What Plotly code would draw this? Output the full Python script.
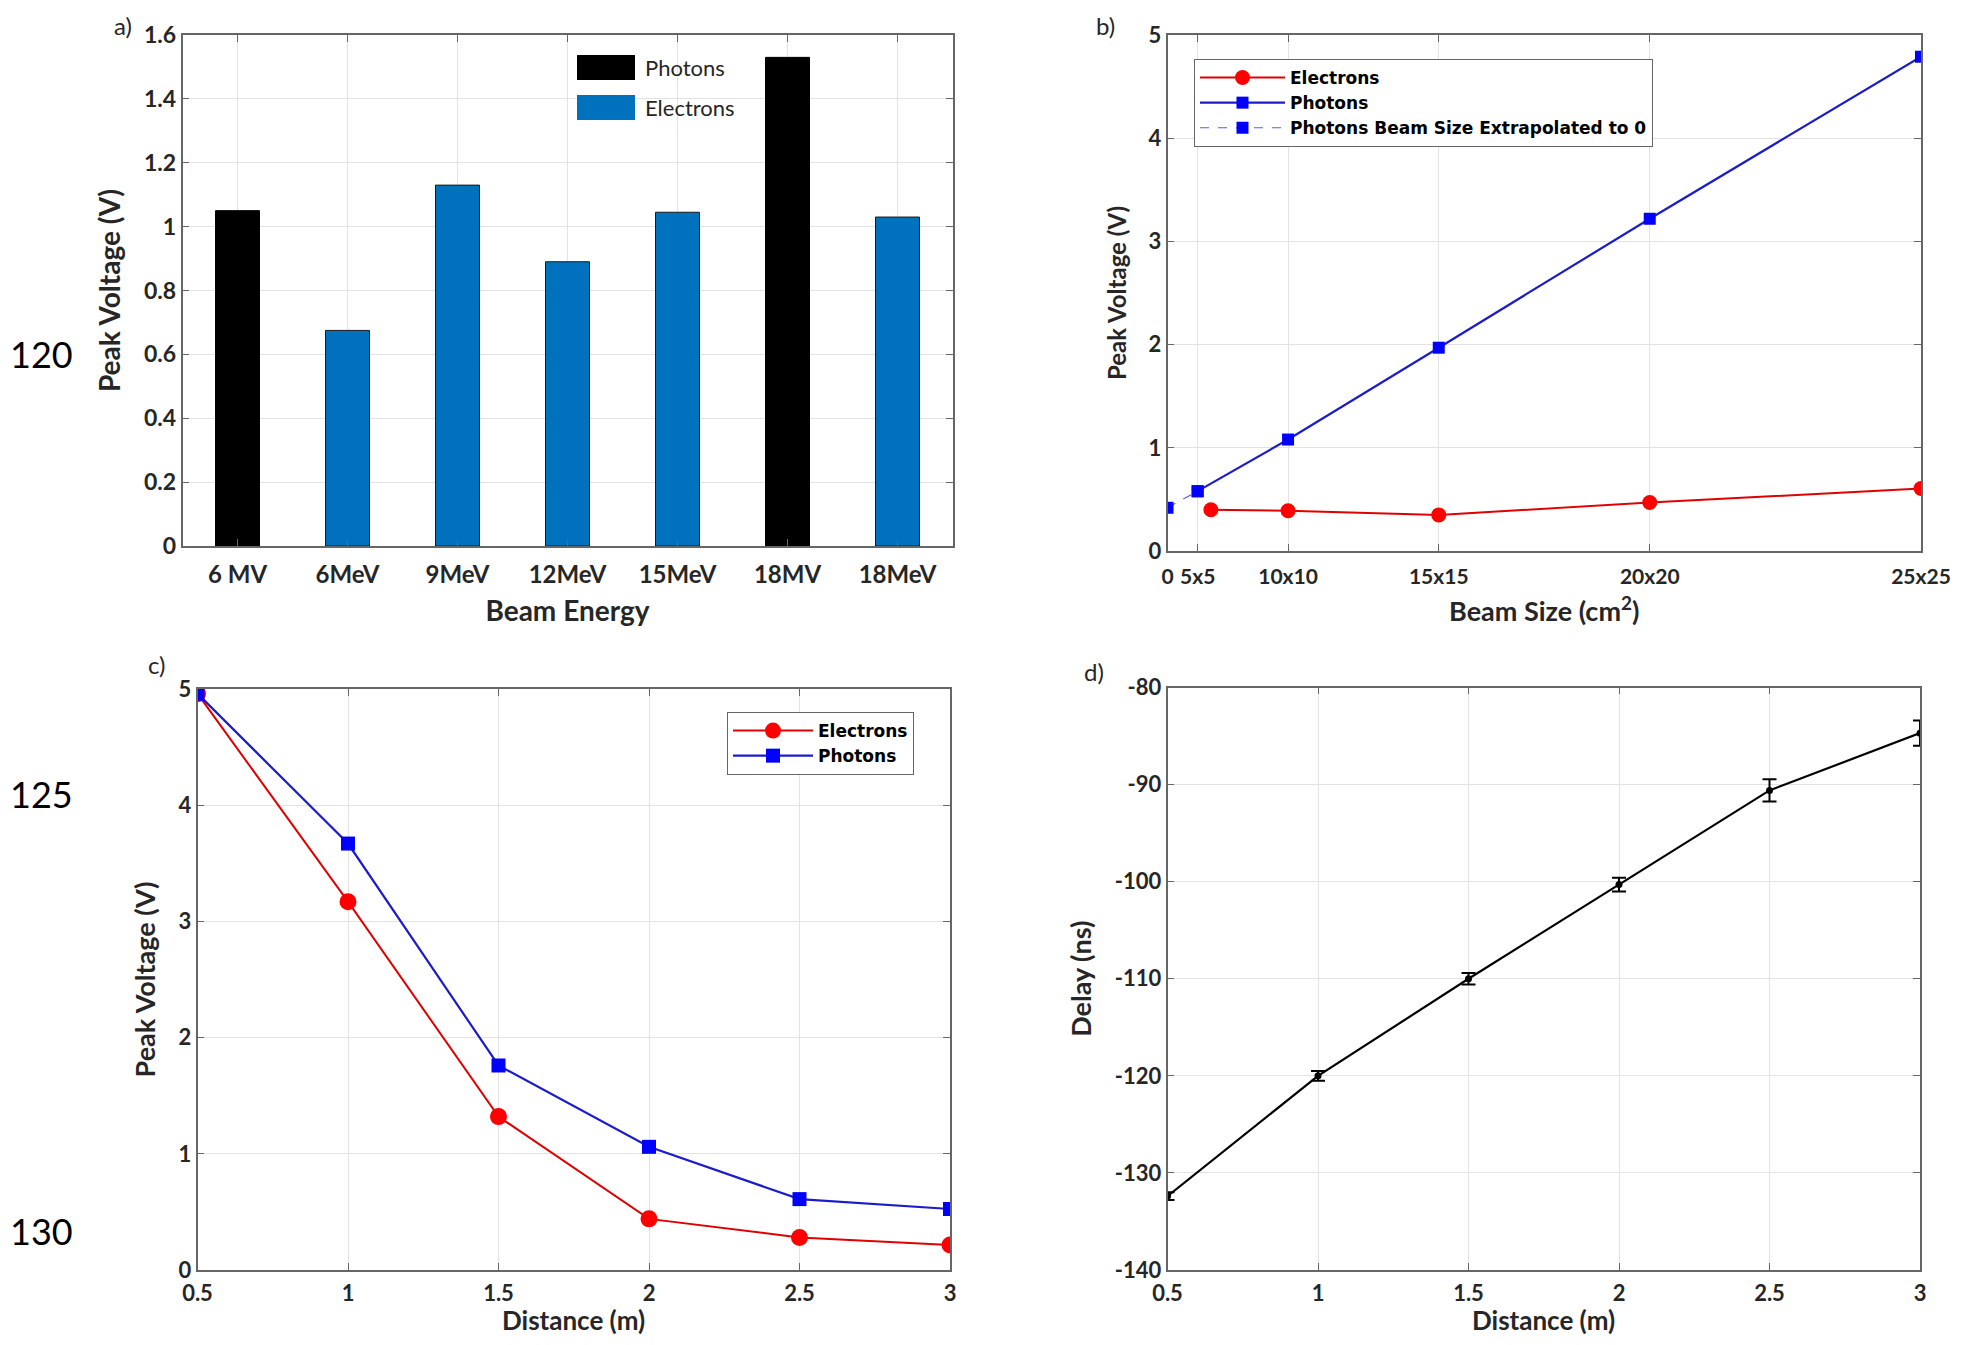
import plotly.graph_objects as go

# ---------------- data ----------------
# panel a
energies = ["6 MV", "6MeV", "9MeV", "12MeV", "15MeV", "18MV", "18MeV"]
photon_energies = ["6 MV", "18MV"]
photon_peak = [1.05, 1.53]
electron_energies = ["6MeV", "9MeV", "12MeV", "15MeV", "18MeV"]
electron_peak = [0.675, 1.13, 0.89, 1.045, 1.03]

# panel b (beam area in cm^2)
b_tickvals = [0, 25, 100, 225, 400, 625]
b_ticktext = ["0", "5x5", "10x10", "15x15", "20x20", "25x25"]
b_elec_area = [36, 100, 225, 400, 625]
b_elec_v = [0.40, 0.39, 0.35, 0.47, 0.605]
b_phot_area = [25, 100, 225, 400, 625]
b_phot_v = [0.58, 1.08, 1.97, 3.22, 4.79]
b_extrap_area = [0, 25]
b_extrap_v = [0.42, 0.58]

# panel c
c_dist = [0.5, 1, 1.5, 2, 2.5, 3]
c_elec = [4.96, 3.17, 1.32, 0.44, 0.28, 0.215]
c_phot = [4.96, 3.67, 1.76, 1.06, 0.61, 0.525]

# panel d
d_dist = [0.5, 1, 1.5, 2, 2.5, 3]
d_delay = [-132.4, -120.0, -110.0, -100.3, -90.6, -84.7]
d_err = [0.4, 0.5, 0.6, 0.7, 1.15, 1.3]
d_tickvals = [-140, -130, -120, -110, -100, -90, -80]
d_ticktext = ["-140", "-130", "-120", "-110", "-100", "-90", "-80"]

line_numbers = ["120", "125", "130"]

# ---------------- geometry helpers (page has an 8px body margin) ----------------
OFF = 8
W, H = 1961 - 2 * OFF, 1345 - 2 * OFF


def fx(X):
    return (X - OFF) / W


def fy(Y):
    return 1 - (Y - OFF) / H


# ---------------- styling ----------------
FONT = "Lato"
LEGFONT = "DejaVu Sans"
BLUE_BAR = "#0072BD"
RED = "#ff0000"
BLUE = "#0000ff"
GRID = "#e3e3e3"
FRAME = "#666666"
TXT = "#262626"


def tf(size):
    return dict(family=FONT, size=size, color=TXT, weight="bold")


fig = go.Figure()

# panel a
fig.add_trace(go.Bar(x=photon_energies, y=photon_peak, name="Photons",
                     marker=dict(color="black", line=dict(color="black", width=1)),
                     width=0.4, xaxis="x", yaxis="y", showlegend=False))
fig.add_trace(go.Bar(x=electron_energies, y=electron_peak, name="Electrons",
                     marker=dict(color=BLUE_BAR, line=dict(color="#1a1a1a", width=1)),
                     width=0.4, xaxis="x", yaxis="y", showlegend=False))

# panel b
fig.add_trace(go.Scatter(x=b_elec_area, y=b_elec_v, name="Electrons", mode="lines+markers",
                         line=dict(color="#e00000", width=2),
                         marker=dict(color=RED, symbol="circle", size=15),
                         xaxis="x2", yaxis="y2", legend="legend2"))
fig.add_trace(go.Scatter(x=b_phot_area, y=b_phot_v, name="Photons", mode="lines+markers",
                         line=dict(color="#1c1cc8", width=2.2),
                         marker=dict(color=BLUE, symbol="square", size=12),
                         xaxis="x2", yaxis="y2", legend="legend2"))
fig.add_trace(go.Scatter(x=b_extrap_area, y=b_extrap_v, name="Photons Beam Size Extrapolated to 0",
                         mode="lines+markers",
                         line=dict(color="#5a5aff", width=1.2, dash="dash"),
                         marker=dict(color=BLUE, symbol="square", size=12),
                         xaxis="x2", yaxis="y2", legend="legend2"))

# panel c
fig.add_trace(go.Scatter(x=c_dist, y=c_elec, name="Electrons", mode="lines+markers",
                         line=dict(color="#e00000", width=2),
                         marker=dict(color=RED, symbol="circle", size=17),
                         xaxis="x3", yaxis="y3", legend="legend3"))
fig.add_trace(go.Scatter(x=c_dist, y=c_phot, name="Photons", mode="lines+markers",
                         line=dict(color="#1c1cc8", width=2.2),
                         marker=dict(color=BLUE, symbol="square", size=14),
                         xaxis="x3", yaxis="y3", legend="legend3"))

# panel d
fig.add_trace(go.Scatter(x=d_dist, y=d_delay, mode="lines+markers", name="Delay",
                         line=dict(color="black", width=2.2),
                         marker=dict(color="black", symbol="circle", size=7),
                         error_y=dict(type="data", array=d_err, color="black",
                                      thickness=2, width=7),
                         xaxis="x4", yaxis="y4", showlegend=False))


def ax(domain, anchor, tsize, **kw):
    d = dict(domain=domain, anchor=anchor, showline=True, linecolor=FRAME, linewidth=1.5,
             mirror="ticks", ticks="inside", ticklen=7, tickcolor=FRAME,
             showgrid=True, gridcolor=GRID, gridwidth=1, zeroline=False,
             automargin=False, tickfont=tf(tsize))
    d.update(kw)
    return d


c_dom = [fx(197.5), fx(950)]
d_dom = [fx(1167.5), fx(1920)]

fig.update_layout(
    width=W, height=H,
    margin=dict(l=0, r=0, t=0, b=0),
    paper_bgcolor="white", plot_bgcolor="white",
    barmode="overlay",
    font=dict(family=FONT),
    xaxis=ax([fx(182.5), fx(952.5)], "y", 24, type="category", categoryorder="array",
             categoryarray=energies, range=[-0.5, 6.5], ticklabelstandoff=6,
             title=dict(text="Beam Energy", font=tf(28))),
    yaxis=ax([fy(546), fy(35)], "x", 23, range=[0, 1.6], dtick=0.2,
             title=dict(text="Peak Voltage (V)", font=tf(28))),
    xaxis2=ax([fx(1167.5), fx(1921)], "y2", 21, range=[0, 625], tickvals=b_tickvals,
              ticktext=b_ticktext, ticklabelstandoff=6,
              title=dict(text="Beam Size (cm<sup>2</sup>)", font=tf(27))),
    yaxis2=ax([fy(551), fy(35)], "x2", 22, range=[0, 5], dtick=1,
              title=dict(text="Peak Voltage (V)", font=tf(24))),
    xaxis3=ax(c_dom, "y3", 22, range=[0.5, 3], dtick=0.5, ticklabelstandoff=3),
    yaxis3=ax([fy(1270), fy(689)], "x3", 22, range=[0, 5], dtick=1,
              title=dict(text="Peak Voltage (V)", font=tf(27))),
    xaxis4=ax(d_dom, "y4", 22, range=[0.5, 3], dtick=0.5, ticklabelstandoff=3),
    yaxis4=ax([fy(1270), fy(687.5)], "x4", 22, range=[-140, -80], tickvals=d_tickvals,
              ticktext=d_ticktext,
              title=dict(text="Delay (ns)", font=tf(27))),
    legend2=dict(x=fx(1194), y=fy(59), xanchor="left", yanchor="top",
                 bgcolor="white", bordercolor="#666666", borderwidth=1,
                 font=dict(family=LEGFONT, size=17, color="black", weight="bold"),
                 itemwidth=85, tracegroupgap=0),
    legend3=dict(x=fx(727), y=fy(712), xanchor="left", yanchor="top",
                 bgcolor="white", bordercolor="#666666", borderwidth=1,
                 font=dict(family=LEGFONT, size=17, color="black", weight="bold"),
                 itemwidth=80, tracegroupgap=0),
)

# x-axis titles of the lower panels, placed below the tick labels
for dom in (c_dom, d_dom):
    fig.add_annotation(text="Distance (m)", xref="paper", yref="paper",
                       x=(dom[0] + dom[1]) / 2, y=0, xanchor="center", yanchor="bottom",
                       borderpad=0, showarrow=False, font=tf(26))

# custom legend for bar panel (large swatches, as in the original)
swatches = [("Photons", "black", 55, 80), ("Electrons", BLUE_BAR, 95, 120)]
for name, col, y0, y1 in swatches:
    fig.add_shape(type="rect", xref="paper", yref="paper",
                  x0=fx(577), x1=fx(635), y0=fy(y1), y1=fy(y0),
                  fillcolor=col, line=dict(width=0))
    fig.add_annotation(text=name, xref="paper", yref="paper", x=fx(643),
                       y=fy((y0 + y1) / 2), xanchor="left", yanchor="middle",
                       showarrow=False, font=dict(family=FONT, size=22, color=TXT))

# panel letters
for lab, px, py in [("a)", 112, 9), ("b)", 1094, 9), ("c)", 146, 648), ("d)", 1082, 655)]:
    fig.add_annotation(text=lab, xref="paper", yref="paper", x=fx(px), y=min(fy(py), 1),
                       xanchor="left", yanchor="top", showarrow=False,
                       font=dict(family=FONT, size=24, color=TXT))

# page line numbers
for lab, py in zip(line_numbers, [354, 794, 1231]):
    fig.add_annotation(text=lab, xref="paper", yref="paper", x=0, y=fy(py),
                       xanchor="left", yanchor="middle", showarrow=False,
                       font=dict(family=FONT, size=36, color="black"))

fig.write_html("out.html")
